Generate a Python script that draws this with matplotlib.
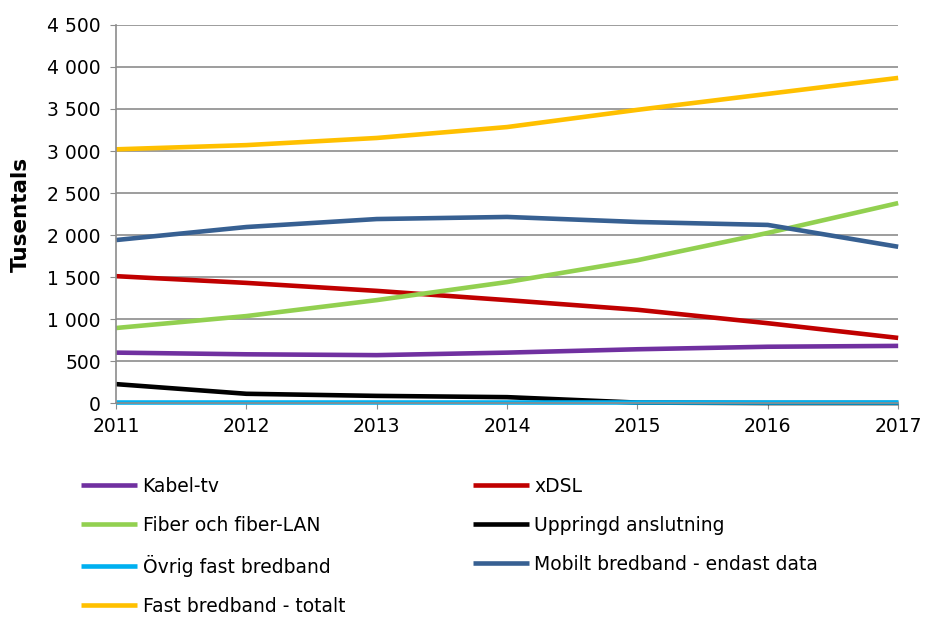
import matplotlib.pyplot as plt
from matplotlib.ticker import FuncFormatter

# Abonnemang (tusental), 2011-2017
years = [2011, 2012, 2013, 2014, 2015, 2016, 2017]
kabel_tv = [600, 580, 570, 600, 640, 670, 680]
xdsl = [1510, 1430, 1335, 1225, 1110, 950, 775]
fiber = [893, 1035, 1225, 1440, 1700, 2025, 2380]
uppringd = [225, 110, 85, 70, 5, 0, 0]
ovrig = [8, 8, 8, 8, 8, 8, 8]
mobilt = [1940, 2095, 2190, 2215, 2155, 2120, 1860]
fast_totalt = [3020, 3070, 3155, 3285, 3490, 3680, 3870]

serier = [
    ("Kabel-tv", kabel_tv, "#7030A0"),
    ("xDSL", xdsl, "#C00000"),
    ("Fiber och fiber-LAN", fiber, "#92D050"),
    ("Uppringd anslutning", uppringd, "#000000"),
    ("Övrig fast bredband", ovrig, "#00B0F0"),
    ("Mobilt bredband - endast data", mobilt, "#376092"),
    ("Fast bredband - totalt", fast_totalt, "#FFC000"),
]

plt.rcParams['font.family'] = ['DejaVu Sans']
fig = plt.figure(figsize=(9.25, 6.17), dpi=100)
ax = fig.add_axes([0.1254, 0.3468, 0.8456, 0.6127])

linjer = {}
for namn, varden, farg in serier:
    l, = ax.plot(years, varden, color=farg, lw=3.3, clip_on=False,
                 solid_capstyle='butt', label=namn)
    linjer[namn] = l

ax.set_xlim(2011, 2017)
ax.set_ylim(0, 4500)
ax.set_yticks(range(0, 4501, 500))
ax.set_xticks(years)
ax.yaxis.set_major_formatter(FuncFormatter(lambda v, p: f"{int(v):,}".replace(",", " ")))
ax.grid(axis='y', color='#8c8c8c', lw=1.2)
ax.set_axisbelow(True)
for s in ['top', 'right']:
    ax.spines[s].set_visible(False)
for s in ['left', 'bottom']:
    ax.spines[s].set_color('#8c8c8c')
    ax.spines[s].set_linewidth(1.2)
ax.tick_params(axis='both', colors='#8c8c8c', labelcolor='black', labelsize=13.5, length=4)
ax.tick_params(axis='x', pad=6)
ax.tick_params(axis='y', pad=7)
ax.set_ylabel("Tusentals", fontsize=15.5, fontweight='bold', labelpad=12)

# legend ordnas kolumnvis
ordning = ["Kabel-tv", "Fiber och fiber-LAN", "Övrig fast bredband", "Fast bredband - totalt",
           "xDSL", "Uppringd anslutning", "Mobilt bredband - endast data"]
fig.legend([linjer[n] for n in ordning], ordning, ncol=2, loc='upper left',
           bbox_to_anchor=(0.069, 0.255), frameon=False, fontsize=13.5,
           handlelength=3.0, handletextpad=0.3, labelspacing=1.07, columnspacing=6.8)

fig.savefig("out.png", dpi=100)
